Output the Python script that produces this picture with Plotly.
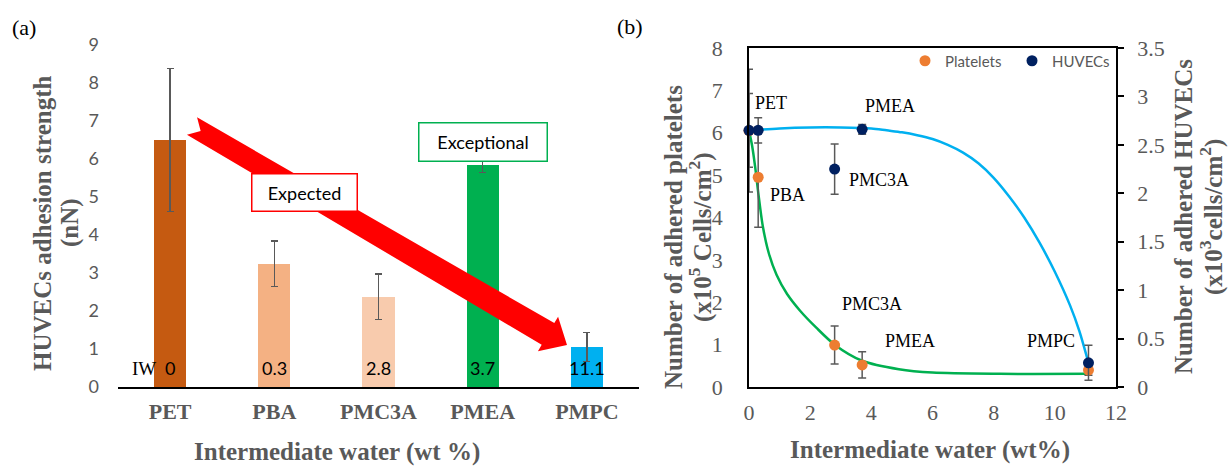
import math
import plotly.graph_objects as go

# ---------------- data ----------------
polymers = ["PET", "PBA", "PMC3A", "PMEA", "PMPC"]
iw_values = [0, 0.3, 2.8, 3.7, 11.1]                 # intermediate water (wt %)
iw_labels = ["0", "0.3", "2.8", "3.7", "11.1"]
adhesion = [6.5, 3.24, 2.37, 5.84, 1.05]              # HUVECs adhesion strength (nN)
adhesion_err = [1.88, 0.6, 0.6, 0.2, 0.38]
bar_colors = ["#C55A11", "#F4B183", "#F8CBAD", "#00B050", "#00B0F0"]

platelets = [6.05, 4.95, 0.99, 0.52, 0.40]            # x10^5 cells/cm2
platelets_err = [1.45, 1.18, 0.45, 0.31, 0.12]
huvecs = [2.65, 2.65, 2.25, 2.66, 0.25]               # x10^3 cells/cm2
huvecs_err = [0.38, 0.13, 0.26, 0.05, 0.18]

# trend curves
plt_fit_x = [0, 0.1, 0.2, 0.3, 0.45, 0.65, 0.9, 1.24, 1.67, 2.2, 2.8, 3.7, 4.9, 6.0, 8.2, 11.1]
plt_fit_y = [6.05, 5.7, 5.2, 4.6, 3.8, 3.15, 2.65, 2.2, 1.8, 1.4, 1.0, 0.62, 0.42, 0.34, 0.31, 0.31]
huv_fit_x = [0, 1, 2, 3, 4, 4.5, 5, 5.5, 6, 6.5, 7, 7.5, 8, 8.5, 9, 9.5, 10, 10.5, 10.8, 11.1]
huv_fit_y = [2.65, 2.67, 2.68, 2.68, 2.67, 2.65, 2.63, 2.6, 2.56, 2.5, 2.42, 2.31, 2.16, 1.97,
             1.75, 1.49, 1.19, 0.84, 0.58, 0.25]

W, H = 1231, 466
SERIF = '"Liberation Serif", "Times New Roman", "DejaVu Serif", serif'
SANS = "Lato"
GRAY = "#595959"

fig = go.Figure()

# ---------------- panel (a) ----------------
fig.add_trace(go.Bar(
    x=polymers, y=adhesion, width=0.31,
    marker=dict(color=bar_colors, line=dict(width=0)),
    error_y=dict(type="data", array=adhesion_err, color=GRAY, thickness=1.5, width=3.5),
    xaxis="x", yaxis="y", showlegend=False, hoverinfo="skip",
))

# ---------------- panel (b) ----------------
fig.add_trace(go.Scatter(
    x=plt_fit_x, y=plt_fit_y, mode="lines", line=dict(color="#00B050", width=2.5, shape="spline", smoothing=0.8),
    xaxis="x2", yaxis="y2", showlegend=False, hoverinfo="skip", cliponaxis=False,
))
fig.add_trace(go.Scatter(
    x=huv_fit_x, y=huv_fit_y, mode="lines", line=dict(color="#00B0F0", width=2.5, shape="spline", smoothing=0.8),
    xaxis="x2", yaxis="y3", showlegend=False, hoverinfo="skip", cliponaxis=False,
))
fig.add_trace(go.Scatter(
    x=iw_values, y=platelets, mode="markers", name="Platelets",
    marker=dict(color="#ED7D31", size=11),
    error_y=dict(type="data", array=platelets_err, color=GRAY, thickness=1.5, width=4),
    xaxis="x2", yaxis="y2", cliponaxis=False,
))
fig.add_trace(go.Scatter(
    x=iw_values, y=huvecs, mode="markers", name="HUVECs",
    marker=dict(color="#002060", size=11),
    error_y=dict(type="data", array=huvecs_err, color=GRAY, thickness=1.5, width=4),
    xaxis="x2", yaxis="y3", cliponaxis=False,
))

# ---------------- annotations ----------------
ann = []
for p, lab in zip(polymers, iw_labels):
    ann.append(dict(x=p, y=0.5, xref="x", yref="y", text=lab, showarrow=False,
                    xanchor="center", yanchor="middle", font=dict(family=SANS, size=18, color="black")))
ann.append(dict(x=-0.25, y=0.5, xref="x", yref="y", text="IW", showarrow=False,
                xanchor="center", yanchor="middle", font=dict(family=SERIF, size=19, color="black")))
ann.append(dict(x=1.29, y=5.13, xref="x", yref="y", text="Expected", showarrow=False,
                xanchor="center", yanchor="middle",
                bgcolor="white", bordercolor="#FF0000", borderwidth=1.5, borderpad=0,
                width=104, height=36, font=dict(family=SANS, size=18, color="black")))
ann.append(dict(x=3, y=6.45, xref="x", yref="y", text="Exceptional", showarrow=False,
                xanchor="center", yanchor="middle",
                bgcolor="white", bordercolor="#00B050", borderwidth=1.5, borderpad=0,
                width=127, height=37, font=dict(family=SANS, size=18, color="black")))

title_font = dict(family=SERIF, size=25, color=GRAY, weight="bold")
def paper_text(px, py, text, angle=0, font=title_font):
    ann.append(dict(x=px / W, y=1 - py / H, xref="paper", yref="paper", text=text,
                    xanchor="center", yanchor="middle",
                    textangle=angle, showarrow=False, font=font))

paper_text(42, 223, "HUVECs adhesion strength", -90)
paper_text(70, 223, "(nN)", -90)
paper_text(337, 452, "Intermediate water (wt %)")
paper_text(24, 28, "(a)", 0, dict(family=SERIF, size=22, color="black"))
paper_text(630, 27, "(b)", 0, dict(family=SERIF, size=22, color="black"))
paper_text(674, 237, "Number of adhered platelets", -90)
paper_text(701, 237, "(x10<sup>5</sup> Cells/cm<sup>2</sup>)", -90)
paper_text(1183, 217, "Number of adhered HUVECs", -90)
paper_text(1211, 217, "(x10<sup>3</sup>cells/cm<sup>2</sup>)", -90)
paper_text(930, 450, "Intermediate water (wt%)")

lab_font = dict(family=SERIF, size=18, color="black")
for txt, x, y, xa in [("PET", 0.13, 6.70, "left"), ("PMEA", 4.6, 6.63, "center"),
                      ("PBA", 0.62, 4.53, "left"), ("PMC3A", 3.2, 4.88, "left"),
                      ("PMC3A", 2.97, 1.96, "left"), ("PMEA", 4.38, 1.08, "left"),
                      ("PMPC", 10.72, 1.08, "right")]:
    ann.append(dict(x=x, y=y, xref="x2", yref="y2", text=txt, showarrow=False,
                    xanchor=xa, yanchor="middle", font=lab_font))

# ---------------- big red arrow (decoration, pixel geometry) ----------------
T = (192.0, 126.0)
P = (567.0, 345.0)
dx, dy = P[0] - T[0], P[1] - T[1]
L = math.hypot(dx, dy)
d = (dx / L, dy / L)
n = (-d[1], d[0])
head_len, head_hw, hw0, hw1, notch = 22.0, 20.0, 10.0, 12.5, 10.0
B = (P[0] - head_len * d[0], P[1] - head_len * d[1])
def pt(c, a, b):
    return (c[0] + a * d[0] + b * n[0], c[1] + a * d[1] + b * n[1])
poly = [pt(T, 0, -hw0), pt(B, 0, -hw1), pt(B, 0, -head_hw), P,
        pt(B, 0, head_hw), pt(B, 0, hw1), pt(T, 0, hw0), pt(T, notch, 0)]
path = "M " + " L ".join(f"{x / W:.5f},{1 - y / H:.5f}" for x, y in poly) + " Z"
shapes = [dict(type="path", path=path, xref="paper", yref="paper",
               fillcolor="#FF0000", line=dict(width=0), layer="above")]

tick_serif = dict(family=SERIF, size=22, color=GRAY)

fig.update_layout(
    template="none",
    width=W, height=H, margin=dict(l=0, r=0, t=0, b=0, pad=0, autoexpand=False),
    paper_bgcolor="white", plot_bgcolor="rgba(0,0,0,0)",
    annotations=ann, shapes=shapes, bargap=0,
    xaxis=dict(domain=[118 / W, 639 / W], type="category", range=[-0.5, 4.5],
               showline=True, linecolor="black", linewidth=1.5, ticks="",
               tickfont=dict(family=SERIF, size=22, color=GRAY, weight="bold"),
               ticklabelstandoff=4, showgrid=False, zeroline=False, anchor="y", automargin=False),
    yaxis=dict(domain=[1 - 387 / H, 1 - 45 / H], range=[0, 9], dtick=1,
               showline=False, showgrid=False, zeroline=False, ticks="",
               tickfont=dict(family=SANS, size=18, color=GRAY), ticklabelstandoff=18,
               anchor="x", automargin=False),
    xaxis2=dict(domain=[749 / W, 1116 / W], range=[0, 12], dtick=2,
                showline=True, mirror=True, linecolor="black", linewidth=1.5, ticks="",
                tickfont=tick_serif,
                ticklabelstandoff=5, showgrid=False, zeroline=False, anchor="y2", automargin=False),
    yaxis2=dict(domain=[1 - 387 / H, 1 - 48 / H], range=[0, 8], dtick=1,
                showline=True, linecolor="black", linewidth=1.5, ticks="",
                tickfont=tick_serif, ticklabelstandoff=20,
                showgrid=False, zeroline=False, anchor="x2", automargin=False),
    yaxis3=dict(overlaying="y2", side="right", range=[0, 3.5], dtick=0.5,
                showline=True, linecolor="black", linewidth=1.5, ticks="outside", ticklen=6,
                tickcolor="black", tickwidth=1.5,
                tickfont=tick_serif, ticklabelstandoff=9,
                showgrid=False, zeroline=False, anchor="x2", automargin=False),
    legend=dict(orientation="h", x=905 / W, y=1 - 61 / H, xanchor="left", yanchor="middle",
                bgcolor="rgba(0,0,0,0)", font=dict(family=SANS, size=15, color=GRAY),
                itemwidth=30, entrywidth=62, tracegroupgap=0),
)

fig.write_html("out.html")
